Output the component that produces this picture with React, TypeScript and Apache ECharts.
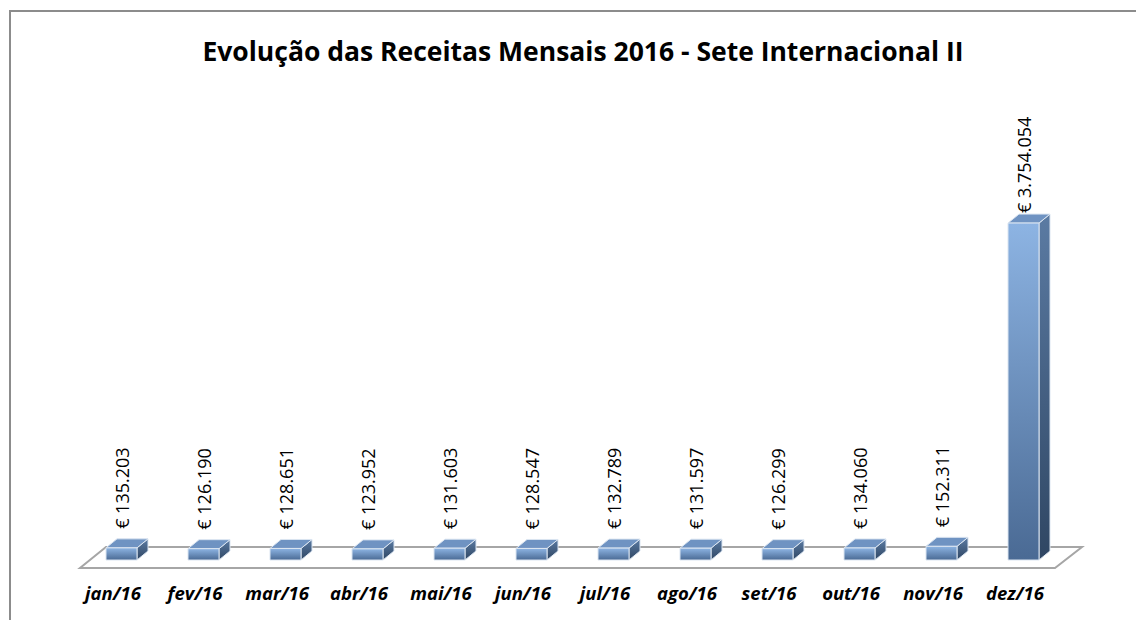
import React, { useEffect, useRef } from "react";
import * as echarts from "echarts";

const categories = ["jan/16", "fev/16", "mar/16", "abr/16", "mai/16", "jun/16", "jul/16", "ago/16", "set/16", "out/16", "nov/16", "dez/16"];
const receitas = [135203, 126190, 128651, 123952, 131603, 128547, 132789, 131597, 126299, 134060, 152311, 3754054];
const titleText = "Evolução das Receitas Mensais 2016 - Sete Internacional II";

const fmt = (v: number) => "€ " + v.toLocaleString("de-DE");

export default function App() {
  const ref = useRef<HTMLDivElement>(null);
  useEffect(() => {
    const chart = echarts.init(ref.current!, null, { renderer: "svg" });
    const option: any = {
      animation: false,
      backgroundColor: "#ffffff",
      title: {
        text: titleText,
        left: 578,
        textAlign: "center",
        top: 32,
        textStyle: { fontFamily: "Open Sans", fontWeight: "bold", fontSize: 26.5, color: "#000" },
      },
      graphic: [
        {
          type: "rect",
          shape: { x: 10, y: 11, width: 1300, height: 800 },
          style: { fill: "none", stroke: "#8c8c8c", lineWidth: 2 },
          silent: true,
        },
      ],
      grid: { left: 80, width: 984, top: 201, bottom: 60 },
      xAxis: {
        type: "category",
        data: categories,
        axisLine: { show: false },
        axisTick: { show: false },
        axisLabel: {
          interval: 0,
          margin: 23,
          fontFamily: "Open Sans",
          fontWeight: "bold",
          fontStyle: "italic",
          fontSize: 18.5,
          color: "#000",
          padding: [0, 16, 0, 0],
        },
      },
      yAxis: { type: "value", min: 0, max: 4000000, show: false, splitLine: { show: false } },
      series: [
        {
          type: "custom",
          clip: false,
          z: 1,
          data: [[0, 0]],
          renderItem: (params: any, api: any) => {
            const cs = params.coordSys;
            const by = cs.y + cs.height;
            const pts = [
              [cs.x, by + 8],
              [cs.x + cs.width - 9, by + 8],
              [cs.x + cs.width + 18, by - 13],
              [cs.x + 26, by - 13],
            ];
            return {
              type: "polygon",
              shape: { points: pts },
              style: { fill: "#ffffff", stroke: "#a6a6a6", lineWidth: 2 },
              silent: true,
            };
          },
        },
        {
          type: "custom",
          clip: false,
          z: 2,
          data: receitas.map((v, i) => [i, v]),
          renderItem: (params: any, api: any) => {
            const idx = api.value(0);
            const val = api.value(1);
            const base = api.coord([idx, 0]);
            const top = api.coord([idx, val]);
            const bw = 31;
            const dx = 11;
            const dy = -9;
            const x0 = base[0] - 15;
            const x1 = x0 + bw;
            const y0 = top[1];
            const y1 = base[1];
            const front = new echarts.graphic.LinearGradient(0, 0, 0, 1, [
              { offset: 0, color: "#8db4e3" },
              { offset: 1, color: "#4a6a94" },
            ]);
            const side = new echarts.graphic.LinearGradient(0, 0, 0, 1, [
              { offset: 0, color: "#5b7ba3" },
              { offset: 1, color: "#2f4663" },
            ]);
            return {
              type: "group",
              children: [
                {
                  type: "polygon",
                  shape: { points: [[x1, y0], [x1 + dx, y0 + dy], [x1 + dx, y1 + dy], [x1, y1]] },
                  style: { fill: side, stroke: "#dbe5f1", lineWidth: 1 },
                },
                {
                  type: "polygon",
                  shape: { points: [[x0, y0], [x1, y0], [x1 + dx, y0 + dy], [x0 + dx, y0 + dy]] },
                  style: { fill: "#6f93c2", stroke: "#dbe5f1", lineWidth: 1 },
                },
                {
                  type: "rect",
                  shape: { x: x0, y: y0, width: bw, height: y1 - y0 },
                  style: { fill: front, stroke: "#dbe5f1", lineWidth: 1 },
                },
                {
                  type: "text",
                  x: base[0] + 1,
                  y: y0 - (val > 1000000 ? 10 : 19),
                  rotation: Math.PI / 2,
                  style: {
                    text: fmt(val),
                    fontFamily: "Open Sans",
                    fontSize: 18,
                    fill: "#000",
                    align: "left",
                    verticalAlign: "middle",
                  },
                },
              ],
            };
          },
        },
      ],
    };
    chart.setOption(option);
    return () => chart.dispose();
  }, []);
  return <div ref={ref} style={{ position: "fixed", left: 0, top: 0, width: 1136, height: 620 }} />;
}
